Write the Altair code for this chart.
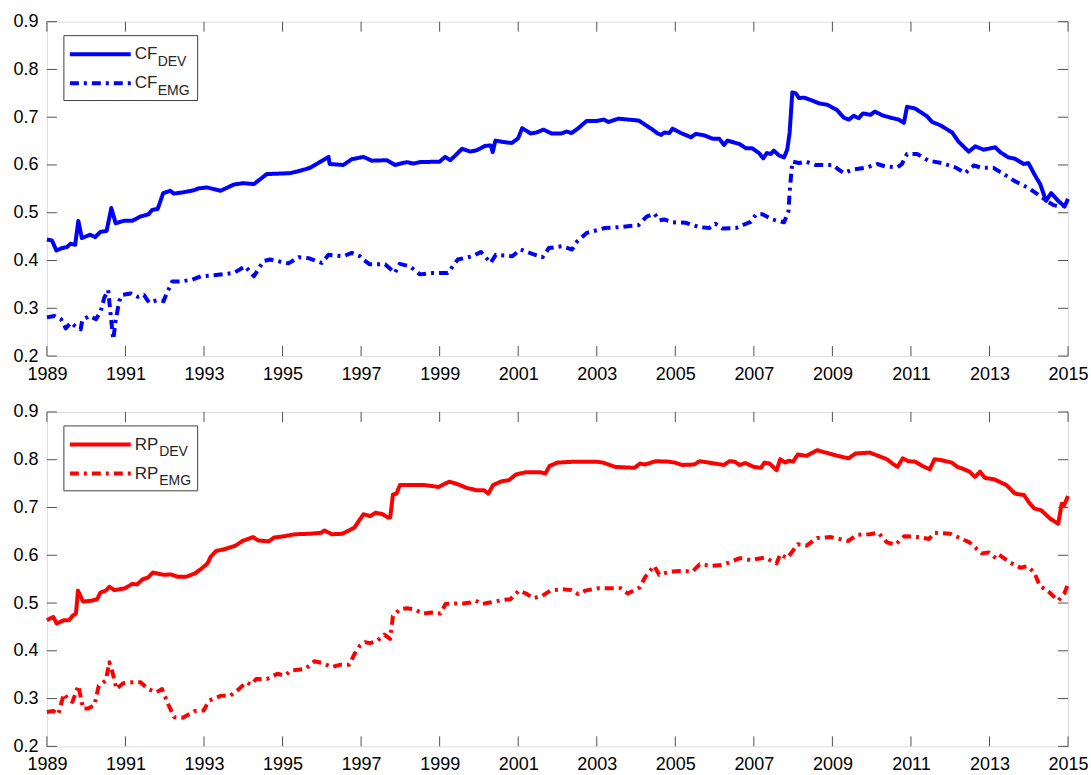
import altair as alt
import pandas as pd

# Axis ticks
YEAR_TICKS = list(range(1989, 2016, 2))
VALUE_TICKS = [0.2, 0.3, 0.4, 0.5, 0.6, 0.7, 0.8, 0.9]

# CF, developed markets
cf_dev_t = [1989.0, 1989.13, 1989.24, 1989.38, 1989.51, 1989.6, 1989.72, 1989.8, 1989.89, 1990.1,
            1990.23, 1990.36, 1990.52, 1990.64, 1990.75, 1990.96, 1991.17, 1991.38, 1991.59, 1991.68,
            1991.82, 1991.96, 1992.14, 1992.23, 1992.48, 1992.74, 1992.86, 1993.08, 1993.42, 1993.76,
            1994.0, 1994.27, 1994.6, 1994.94, 1995.2, 1995.45, 1995.7, 1995.87, 1996.17, 1996.2,
            1996.55, 1996.76, 1997.06, 1997.27, 1997.65, 1997.86, 1998.16, 1998.33, 1998.5, 1999.0,
            1999.14, 1999.27, 1999.4, 1999.57, 1999.78, 1999.95, 2000.16, 2000.3, 2000.35, 2000.42,
            2000.63, 2000.84, 2001.0, 2001.1, 2001.32, 2001.47, 2001.64, 2001.85, 2002.1, 2002.23,
            2002.36, 2002.53, 2002.74, 2002.99, 2003.18, 2003.3, 2003.55, 2004.07, 2004.42, 2004.55,
            2004.64, 2004.72, 2004.85, 2004.93, 2005.14, 2005.4, 2005.52, 2005.74, 2005.95, 2006.12,
            2006.24, 2006.33, 2006.63, 2006.8, 2006.96, 2007.13, 2007.24, 2007.33, 2007.43, 2007.51,
            2007.64, 2007.77, 2007.85, 2007.91, 2007.98, 2008.07, 2008.15, 2008.28, 2008.45, 2008.66,
            2008.87, 2009.12, 2009.29, 2009.42, 2009.54, 2009.67, 2009.78, 2009.97, 2010.08, 2010.27,
            2010.48, 2010.69, 2010.82, 2010.9, 2011.11, 2011.41, 2011.54, 2011.75, 2012.05, 2012.21,
            2012.47, 2012.64, 2012.85, 2013.15, 2013.27, 2013.48, 2013.65, 2013.87, 2013.99, 2014.16,
            2014.29, 2014.44, 2014.57, 2014.75, 2014.91, 2015.0]
cf_dev_v = [0.444, 0.442, 0.421, 0.426, 0.428, 0.435, 0.433, 0.483, 0.447, 0.454,
            0.449, 0.460, 0.462, 0.510, 0.478, 0.483, 0.483, 0.492, 0.497, 0.506,
            0.508, 0.541, 0.546, 0.540, 0.543, 0.547, 0.551, 0.553, 0.546, 0.559,
            0.562, 0.560, 0.581, 0.582, 0.583, 0.588, 0.594, 0.602, 0.617, 0.602,
            0.600, 0.612, 0.617, 0.609, 0.610, 0.600, 0.606, 0.603, 0.606, 0.607,
            0.617, 0.610, 0.620, 0.634, 0.628, 0.631, 0.640, 0.641, 0.627, 0.651,
            0.648, 0.646, 0.656, 0.677, 0.666, 0.668, 0.674, 0.666, 0.666, 0.670,
            0.667, 0.677, 0.692, 0.692, 0.695, 0.690, 0.697, 0.693, 0.674, 0.666,
            0.663, 0.668, 0.667, 0.676, 0.667, 0.658, 0.665, 0.662, 0.655, 0.655,
            0.642, 0.651, 0.644, 0.635, 0.635, 0.625, 0.614, 0.625, 0.623, 0.630,
            0.620, 0.616, 0.632, 0.667, 0.752, 0.750, 0.740, 0.741, 0.736, 0.729,
            0.726, 0.715, 0.699, 0.695, 0.703, 0.698, 0.708, 0.705, 0.712, 0.704,
            0.699, 0.695, 0.688, 0.722, 0.718, 0.702, 0.690, 0.683, 0.668, 0.649,
            0.628, 0.639, 0.632, 0.637, 0.627, 0.616, 0.613, 0.602, 0.604, 0.578,
            0.560, 0.525, 0.541, 0.525, 0.513, 0.529]

# CF, emerging markets
cf_emg_t = [1989.0, 1989.19, 1989.36, 1989.48, 1989.61, 1989.74, 1989.86, 1989.9, 1990.08, 1990.25,
            1990.37, 1990.46, 1990.56, 1990.63, 1990.69, 1990.75, 1990.84, 1990.92, 1991.14, 1991.31,
            1991.47, 1991.6, 1991.81, 1991.97, 1992.04, 1992.19, 1992.4, 1992.7, 1992.92, 1993.25,
            1993.76, 1994.05, 1994.27, 1994.52, 1994.69, 1995.15, 1995.41, 1995.66, 1996.0, 1996.17,
            1996.55, 1996.76, 1996.97, 1997.05, 1997.22, 1997.61, 1997.86, 1997.98, 1998.24, 1998.5,
            1998.83, 1999.21, 1999.46, 1999.84, 2000.05, 2000.3, 2000.43, 2000.85, 2001.06, 2001.36,
            2001.62, 2001.78, 2002.12, 2002.37, 2002.5, 2002.75, 2003.21, 2003.59, 2004.06, 2004.27,
            2004.47, 2004.59, 2004.72, 2004.93, 2005.27, 2005.61, 2005.86, 2006.02, 2006.2, 2006.54,
            2006.8, 2006.92, 2007.05, 2007.22, 2007.47, 2007.77, 2007.88, 2007.92, 2007.98, 2008.15,
            2008.32, 2008.57, 2009.0, 2009.17, 2009.29, 2009.5, 2009.84, 2010.14, 2010.35, 2010.65,
            2010.77, 2010.9, 2011.16, 2011.45, 2011.79, 2012.13, 2012.38, 2012.6, 2012.81, 2013.1,
            2013.36, 2013.65, 2013.99, 2014.24, 2014.45, 2014.63, 2014.8, 2015.0]
cf_emg_v = [0.281, 0.284, 0.277, 0.258, 0.270, 0.261, 0.256, 0.275, 0.284, 0.277,
            0.294, 0.322, 0.338, 0.281, 0.235, 0.274, 0.315, 0.328, 0.331, 0.324,
            0.328, 0.312, 0.317, 0.315, 0.329, 0.356, 0.356, 0.360, 0.367, 0.369,
            0.374, 0.388, 0.367, 0.399, 0.402, 0.394, 0.407, 0.405, 0.395, 0.412,
            0.409, 0.416, 0.409, 0.402, 0.392, 0.392, 0.374, 0.393, 0.388, 0.371,
            0.374, 0.374, 0.402, 0.409, 0.418, 0.395, 0.412, 0.409, 0.423, 0.414,
            0.407, 0.426, 0.430, 0.423, 0.440, 0.458, 0.468, 0.470, 0.474, 0.492,
            0.498, 0.484, 0.486, 0.480, 0.479, 0.470, 0.468, 0.477, 0.467, 0.468,
            0.477, 0.481, 0.496, 0.497, 0.486, 0.480, 0.503, 0.552, 0.607, 0.604,
            0.607, 0.600, 0.600, 0.590, 0.583, 0.590, 0.594, 0.602, 0.597, 0.595,
            0.602, 0.623, 0.623, 0.609, 0.604, 0.595, 0.583, 0.599, 0.594, 0.594,
            0.581, 0.566, 0.552, 0.538, 0.525, 0.516, 0.513, 0.520]

# RP, developed markets
rp_dev_t = [1989.0, 1989.16, 1989.25, 1989.43, 1989.56, 1989.65, 1989.74, 1989.79, 1989.92, 1990.14,
            1990.28, 1990.36, 1990.5, 1990.59, 1990.72, 1990.99, 1991.17, 1991.3, 1991.44, 1991.57,
            1991.7, 1991.97, 1992.15, 1992.33, 1992.55, 1992.77, 1992.95, 1993.09, 1993.17, 1993.31,
            1993.53, 1993.8, 1993.98, 1994.25, 1994.38, 1994.65, 1994.78, 1995.05, 1995.32, 1995.67,
            1995.98, 1996.07, 1996.25, 1996.52, 1996.74, 1996.83, 1996.97, 1997.06, 1997.23, 1997.37,
            1997.55, 1997.68, 1997.74, 1997.81, 1997.9, 1997.99, 1998.35, 1998.62, 1998.97, 1999.24,
            1999.42, 1999.69, 1999.95, 2000.13, 2000.24, 2000.36, 2000.58, 2000.76, 2000.94, 2001.2,
            2001.56, 2001.69, 2001.8, 2002.0, 2002.45, 2002.98, 2003.16, 2003.47, 2003.96, 2004.1,
            2004.23, 2004.5, 2004.81, 2004.99, 2005.17, 2005.48, 2005.62, 2005.93, 2006.24, 2006.38,
            2006.51, 2006.64, 2006.78, 2007.0, 2007.18, 2007.27, 2007.4, 2007.58, 2007.67, 2007.8,
            2007.89, 2008.0, 2008.12, 2008.34, 2008.61, 2008.83, 2009.14, 2009.41, 2009.59, 2009.95,
            2010.17, 2010.39, 2010.53, 2010.66, 2010.79, 2010.93, 2011.11, 2011.29, 2011.48, 2011.6,
            2011.78, 2012.04, 2012.18, 2012.36, 2012.49, 2012.63, 2012.76, 2012.88, 2013.12, 2013.43,
            2013.65, 2013.88, 2014.01, 2014.14, 2014.32, 2014.54, 2014.75, 2014.84, 2014.9, 2015.0]
rp_dev_v = [0.464, 0.471, 0.457, 0.464, 0.464, 0.473, 0.478, 0.526, 0.503, 0.505,
            0.508, 0.522, 0.526, 0.534, 0.527, 0.531, 0.540, 0.539, 0.550, 0.553,
            0.564, 0.559, 0.560, 0.555, 0.555, 0.562, 0.573, 0.583, 0.597, 0.609,
            0.613, 0.620, 0.630, 0.638, 0.631, 0.629, 0.637, 0.640, 0.644, 0.645,
            0.647, 0.652, 0.644, 0.645, 0.654, 0.658, 0.675, 0.686, 0.682, 0.689,
            0.686, 0.679, 0.679, 0.727, 0.729, 0.747, 0.747, 0.747, 0.743, 0.754,
            0.750, 0.741, 0.736, 0.736, 0.729, 0.747, 0.755, 0.757, 0.769, 0.774,
            0.774, 0.771, 0.787, 0.794, 0.796, 0.796, 0.794, 0.785, 0.783, 0.792,
            0.790, 0.797, 0.796, 0.794, 0.789, 0.790, 0.797, 0.793, 0.789, 0.797,
            0.796, 0.789, 0.793, 0.785, 0.783, 0.794, 0.792, 0.778, 0.801, 0.794,
            0.798, 0.796, 0.811, 0.808, 0.820, 0.815, 0.808, 0.803, 0.813, 0.815,
            0.808, 0.801, 0.792, 0.785, 0.803, 0.797, 0.796, 0.787, 0.780, 0.801,
            0.799, 0.794, 0.785, 0.780, 0.775, 0.764, 0.775, 0.762, 0.759, 0.747,
            0.729, 0.726, 0.710, 0.698, 0.694, 0.677, 0.666, 0.708, 0.705, 0.724]

# RP, emerging markets
rp_emg_t = [1989.0, 1989.16, 1989.29, 1989.43, 1989.54, 1989.65, 1989.8, 1989.92, 1990.05, 1990.21,
            1990.32, 1990.5, 1990.59, 1990.68, 1990.77, 1990.94, 1991.17, 1991.39, 1991.57, 1991.79,
            1991.93, 1992.1, 1992.24, 1992.46, 1992.64, 1992.77, 1992.99, 1993.13, 1993.44, 1993.67,
            1993.89, 1994.07, 1994.2, 1994.33, 1994.6, 1994.87, 1995.05, 1995.23, 1995.58, 1995.81,
            1996.03, 1996.25, 1996.48, 1996.7, 1996.83, 1996.97, 1997.1, 1997.23, 1997.41, 1997.59,
            1997.74, 1997.81, 1997.99, 1998.17, 1998.35, 1998.57, 1998.79, 1999.02, 1999.15, 1999.42,
            1999.6, 1999.78, 1999.91, 2000.09, 2000.27, 2000.58, 2000.8, 2001.02, 2001.2, 2001.38,
            2001.61, 2001.82, 2002.13, 2002.36, 2002.52, 2002.71, 2003.03, 2003.61, 2003.79, 2004.1,
            2004.23, 2004.46, 2004.59, 2004.86, 2005.13, 2005.44, 2005.62, 2005.93, 2006.2, 2006.38,
            2006.64, 2006.91, 2007.27, 2007.58, 2007.67, 2007.85, 2008.12, 2008.34, 2008.61, 2008.96,
            2009.41, 2009.63, 2009.95, 2010.17, 2010.39, 2010.6, 2010.83, 2011.2, 2011.46, 2011.6,
            2012.0, 2012.22, 2012.49, 2012.8, 2012.98, 2013.16, 2013.25, 2013.52, 2013.79, 2013.96,
            2014.14, 2014.28, 2014.5, 2014.75, 2014.9, 2015.0]
rp_emg_v = [0.272, 0.274, 0.267, 0.310, 0.299, 0.293, 0.327, 0.279, 0.279, 0.286,
            0.327, 0.338, 0.376, 0.352, 0.320, 0.332, 0.334, 0.334, 0.320, 0.313,
            0.320, 0.286, 0.261, 0.260, 0.268, 0.274, 0.275, 0.296, 0.306, 0.306,
            0.320, 0.334, 0.329, 0.341, 0.341, 0.352, 0.348, 0.359, 0.362, 0.378,
            0.374, 0.366, 0.371, 0.371, 0.393, 0.411, 0.418, 0.416, 0.421, 0.434,
            0.425, 0.473, 0.487, 0.489, 0.487, 0.478, 0.480, 0.478, 0.498, 0.499,
            0.499, 0.501, 0.505, 0.498, 0.501, 0.506, 0.508, 0.526, 0.520, 0.510,
            0.515, 0.526, 0.529, 0.527, 0.519, 0.526, 0.531, 0.531, 0.520, 0.533,
            0.554, 0.578, 0.559, 0.566, 0.567, 0.566, 0.581, 0.578, 0.580, 0.585,
            0.594, 0.590, 0.595, 0.583, 0.602, 0.594, 0.623, 0.620, 0.636, 0.638,
            0.630, 0.643, 0.644, 0.647, 0.627, 0.622, 0.640, 0.638, 0.634, 0.647,
            0.645, 0.637, 0.627, 0.604, 0.606, 0.594, 0.601, 0.585, 0.574, 0.577,
            0.564, 0.536, 0.524, 0.505, 0.519, 0.540]

W, H = 1023, 335
FONT = "Liberation Sans"
TEXT_COLOR = "#262626"
SOLID = [1, 0]
DASH_DOT = [9, 5, 3, 5]

X_SCALE = alt.Scale(domain=[1989, 2015], nice=False, zero=False)
Y_SCALE = alt.Scale(domain=[0.2, 0.9], nice=False, zero=False)
X_AXIS = alt.Axis(values=YEAR_TICKS, format="d", ticks=False, domain=False, grid=False,
                  labelPadding=9, labelFontSize=18, labelFlush=False, labelOverlap=False,
                  title=None)
Y_AXIS = alt.Axis(values=VALUE_TICKS, format=".1f", ticks=False, domain=False, grid=False,
                  labelPadding=9, labelFontSize=18, labelFlush=False, labelOverlap=False,
                  title=None)


def xenc():
    return alt.X("t:Q", scale=X_SCALE, axis=X_AXIS)


def yenc():
    return alt.Y("v:Q", scale=Y_SCALE, axis=Y_AXIS)


def panel(prefix, color, dev_t, dev_v, emg_t, emg_v):
    df = pd.concat([
        pd.DataFrame({"t": dev_t, "v": dev_v, "s": "DEV"}),
        pd.DataFrame({"t": emg_t, "v": emg_v, "s": "EMG"}),
    ])

    lines = alt.Chart(df).mark_line(
        strokeWidth=4, color=color, strokeJoin="round", strokeCap="butt"
    ).encode(
        x=xenc(),
        y=yenc(),
        strokeDash=alt.StrokeDash("s:N", legend=None,
                                  scale=alt.Scale(domain=["DEV", "EMG"], range=[SOLID, DASH_DOT])),
        detail="s:N",
    )

    # inward tick marks on all four sides
    xt = pd.DataFrame({"t": YEAR_TICKS})
    yt = pd.DataFrame({"v": VALUE_TICKS})
    tick_style = dict(color="#505050", strokeWidth=1)
    xb = alt.Chart(xt).mark_rule(**tick_style).encode(
        x=xenc(), y=alt.value(H), y2=alt.value(H - 10))
    xtop = alt.Chart(xt).mark_rule(**tick_style).encode(
        x=xenc(), y=alt.value(0), y2=alt.value(10))
    yl = alt.Chart(yt).mark_rule(**tick_style).encode(
        y=yenc(), x=alt.value(0), x2=alt.value(10))
    yr = alt.Chart(yt).mark_rule(**tick_style).encode(
        y=yenc(), x=alt.value(W - 10), x2=alt.value(W))

    # legend with subscripted labels
    one = pd.DataFrame({"k": [0]})
    box = alt.Chart(one).mark_rect(fill="white", stroke="#404040", strokeWidth=1).encode(
        x=alt.value(17), x2=alt.value(151), y=alt.value(14), y2=alt.value(79))
    sample_dev = alt.Chart(one).mark_rule(color=color, strokeWidth=4, strokeDash=SOLID).encode(
        x=alt.value(23), x2=alt.value(84), y=alt.value(32.7))
    sample_emg = alt.Chart(one).mark_rule(color=color, strokeWidth=4, strokeDash=DASH_DOT,
                                          strokeCap="butt").encode(
        x=alt.value(23), x2=alt.value(84), y=alt.value(61.7))
    sub_dx = 23 if prefix == "CF" else 24.5
    texts = []
    for base_y, sub in [(37.7, "DEV"), (66.7, "EMG")]:
        texts.append(alt.Chart(one).mark_text(
            align="left", baseline="alphabetic", font=FONT, fontSize=17, color=TEXT_COLOR
        ).encode(x=alt.value(88), y=alt.value(base_y), text=alt.value(prefix)))
        texts.append(alt.Chart(one).mark_text(
            align="left", baseline="alphabetic", font=FONT, fontSize=14, color=TEXT_COLOR
        ).encode(x=alt.value(88 + sub_dx), y=alt.value(base_y + 6.6), text=alt.value(sub)))

    return alt.layer(lines, xb, xtop, yl, yr, box, sample_dev, sample_emg, *texts).properties(
        width=W, height=H)


top = panel("CF", "#0000ff", cf_dev_t, cf_dev_v, cf_emg_t, cf_emg_v)
bottom = panel("RP", "#ff0000", rp_dev_t, rp_dev_v, rp_emg_t, rp_emg_v)

chart = alt.vconcat(top, bottom, spacing=18).properties(
    padding={"left": 12, "top": 11, "right": 2, "bottom": 2}
).configure_view(
    stroke="#262626", strokeWidth=1
).configure_axis(
    labelFont=FONT, labelColor=TEXT_COLOR, labelFontSize=18
).configure(background="white")

chart.save("out.html", embed_options={"renderer": "svg", "actions": False})
